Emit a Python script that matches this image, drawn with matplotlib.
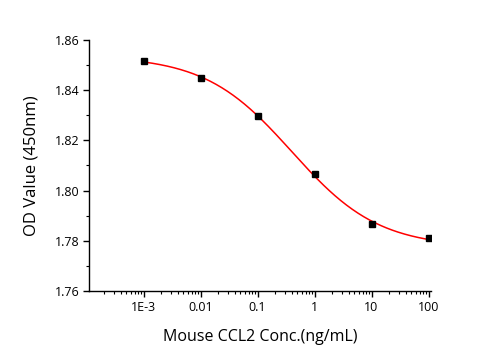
import numpy as np
import matplotlib
matplotlib.use("Agg")
import matplotlib.pyplot as plt
from matplotlib.ticker import LogLocator, FixedLocator, MultipleLocator, NullFormatter

conc = [0.001, 0.01, 0.1, 1, 10, 100]
od = [1.8516, 1.8449, 1.8297, 1.8066, 1.7867, 1.7811]
xtick_vals = [0.001, 0.01, 0.1, 1, 10, 100]
xtick_labels = ["1E-3", "0.01", "0.1", "1", "10", "100"]
ytick_vals = [1.76, 1.78, 1.80, 1.82, 1.84, 1.86]

# 4-parameter logistic fit to the data points (grid search on EC50 / Hill, linear for top/bottom)
cx = np.array(conc)
cy = np.array(od)
best = None
for lec in np.linspace(-2, 1, 121):
    for h in np.linspace(0.3, 1.5, 121):
        g = 1.0 / (1 + (cx / 10 ** lec) ** h)
        A = np.column_stack([np.ones_like(g), g])
        coef, *_ = np.linalg.lstsq(A, cy, rcond=None)
        r = np.sum((A @ coef - cy) ** 2)
        if best is None or r < best[0]:
            best = (r, lec, h, coef)
_, lec, hill, (bottom, amp) = best

plt.rcParams['font.family'] = ['Open Sans', 'DejaVu Sans']
fig = plt.figure(figsize=(5.01, 3.5), dpi=100)
ax = fig.add_axes([0.1776, 0.1686, 0.6824, 0.7171])

xf = np.logspace(-3, 2, 300)
yf = bottom + amp / (1 + (xf / 10 ** lec) ** hill)
ax.plot(xf, yf, color='#ff0000', lw=1.1, zorder=2)
ax.plot(conc, od, 's', color='black', ms=4.5, zorder=3)

ax.set_xscale('log')
ax.set_xlim(1.1e-4, 110)
ax.set_ylim(1.76, 1.86)
ax.xaxis.set_major_locator(FixedLocator(xtick_vals))
ax.set_xticklabels(xtick_labels)
ax.xaxis.set_minor_locator(LogLocator(base=10, subs=np.arange(2, 10)))
ax.xaxis.set_minor_formatter(NullFormatter())
ax.yaxis.set_major_locator(FixedLocator(ytick_vals))
ax.set_yticklabels([f"{v:.2f}" for v in ytick_vals])
ax.yaxis.set_minor_locator(MultipleLocator(0.01))

for s in ['top', 'right']:
    ax.spines[s].set_visible(False)
for s in ['left', 'bottom']:
    ax.spines[s].set_linewidth(1.0)
ax.tick_params(which='major', direction='out', length=4, width=1, labelsize=9, pad=3)
ax.tick_params(which='minor', direction='out', length=2, width=0.8)

ax.set_xlabel("Mouse CCL2 Conc.(ng/mL)", fontsize=11.5, labelpad=11)
ax.set_ylabel("OD Value (450nm)", fontsize=12, labelpad=11)

fig.savefig("out.png", dpi=100)
